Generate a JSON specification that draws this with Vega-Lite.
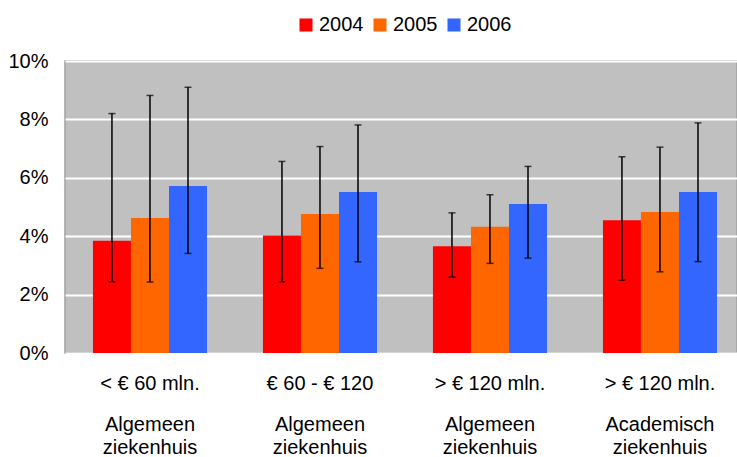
{
  "$schema": "https://vega.github.io/schema/vega-lite/v6.json",
  "autosize": "none",
  "width": 672,
  "height": 292,
  "padding": {"left": 65, "top": 61, "right": 0, "bottom": 104},
  "background": "white",
  "config": {
    "font": "Liberation Sans",
    "view": {"fill": "#c0c0c0", "stroke": "#a0a0a0", "strokeWidth": 1.5}
  },
  "data": {
    "values": [
      {"cat": "< € 60 mln.|Algemeen|ziekenhuis", "year": "2004", "value": 0.0384, "lo": 0.0244, "hi": 0.082},
      {"cat": "< € 60 mln.|Algemeen|ziekenhuis", "year": "2005", "value": 0.0462, "lo": 0.0243, "hi": 0.0882},
      {"cat": "< € 60 mln.|Algemeen|ziekenhuis", "year": "2006", "value": 0.0572, "lo": 0.0341, "hi": 0.091},
      {"cat": "€ 60 - € 120|Algemeen|ziekenhuis", "year": "2004", "value": 0.0402, "lo": 0.0244, "hi": 0.0656},
      {"cat": "€ 60 - € 120|Algemeen|ziekenhuis", "year": "2005", "value": 0.0476, "lo": 0.029, "hi": 0.0707},
      {"cat": "€ 60 - € 120|Algemeen|ziekenhuis", "year": "2006", "value": 0.0551, "lo": 0.0312, "hi": 0.0781},
      {"cat": "> € 120 mln.|Algemeen|ziekenhuis", "year": "2004", "value": 0.0366, "lo": 0.026, "hi": 0.048},
      {"cat": "> € 120 mln.|Algemeen|ziekenhuis", "year": "2005", "value": 0.0432, "lo": 0.0307, "hi": 0.0542},
      {"cat": "> € 120 mln.|Algemeen|ziekenhuis", "year": "2006", "value": 0.051, "lo": 0.0325, "hi": 0.0639},
      {"cat": "> € 120 mln.|Academisch|ziekenhuis", "year": "2004", "value": 0.0455, "lo": 0.0249, "hi": 0.0672},
      {"cat": "> € 120 mln.|Academisch|ziekenhuis", "year": "2005", "value": 0.0483, "lo": 0.0278, "hi": 0.0705},
      {"cat": "> € 120 mln.|Academisch|ziekenhuis", "year": "2006", "value": 0.0551, "lo": 0.0313, "hi": 0.0788}
    ]
  },
  "resolve": {"axis": {"x": "independent"}},
  "layer": [
    {
      "mark": {"type": "bar"},
      "encoding": {
        "x": {
          "field": "cat", "type": "nominal", "sort": null,
          "scale": {"paddingInner": 0.329, "paddingOuter": 0.141, "align": 0.583},
          "axis": {
            "title": null, "labelAngle": 0, "domain": false, "ticks": false, "orient": "bottom",
            "labelExpr": "split(datum.value, '|')[0]",
            "labelFontSize": 20, "labelColor": "#000",
            "labelPadding": 30, "labelBaseline": "middle"
          }
        },
        "xOffset": {"field": "year", "type": "nominal", "scale": {"paddingInner": 0, "paddingOuter": 0}},
        "y": {
          "field": "value", "type": "quantitative",
          "scale": {"domain": [0, 0.1], "nice": false},
          "axis": {
            "title": null, "format": ".0%", "values": [0, 0.02, 0.04, 0.06, 0.08, 0.1],
            "domain": false, "ticks": false, "labelFontSize": 20, "labelColor": "#000",
            "labelPadding": 17, "gridColor": "white", "gridWidth": 2, "gridOpacity": 1
          }
        },
        "color": {
          "field": "year", "type": "nominal",
          "scale": {"domain": ["2004", "2005", "2006"], "range": ["#ff0000", "#ff6600", "#3366ff"]},
          "legend": {
            "title": null, "orient": "none", "direction": "horizontal",
            "legendX": 231, "legendY": -46,
            "symbolType": "square", "symbolSize": 170, "symbolStrokeWidth": 0,
            "symbolOpacity": 1, "labelFontSize": 20, "labelColor": "#000",
            "labelOffset": 3, "columnPadding": 6
          }
        }
      }
    },
    {
      "mark": {"type": "rule", "color": "black", "strokeWidth": 1.5},
      "encoding": {
        "x": {
          "field": "cat", "type": "nominal", "sort": null,
          "axis": {
            "title": null, "labelAngle": 0, "domain": false, "ticks": false, "orient": "bottom",
            "labelExpr": "slice(split(datum.value, '|'), 1)",
            "labelFontSize": 20, "labelColor": "#000", "labelLineHeight": 23,
            "labelPadding": 71, "labelBaseline": "middle"
          }
        },
        "xOffset": {"field": "year", "type": "nominal"},
        "y": {"field": "lo", "type": "quantitative"},
        "y2": {"field": "hi"}
      }
    },
    {
      "mark": {"type": "tick", "color": "black", "orient": "horizontal", "size": 7, "thickness": 1.5},
      "encoding": {
        "x": {"field": "cat", "type": "nominal", "sort": null, "axis": null},
        "xOffset": {"field": "year", "type": "nominal"},
        "y": {"field": "lo", "type": "quantitative"}
      }
    },
    {
      "mark": {"type": "tick", "color": "black", "orient": "horizontal", "size": 7, "thickness": 1.5},
      "encoding": {
        "x": {"field": "cat", "type": "nominal", "sort": null, "axis": null},
        "xOffset": {"field": "year", "type": "nominal"},
        "y": {"field": "hi", "type": "quantitative"}
      }
    }
  ]
}
